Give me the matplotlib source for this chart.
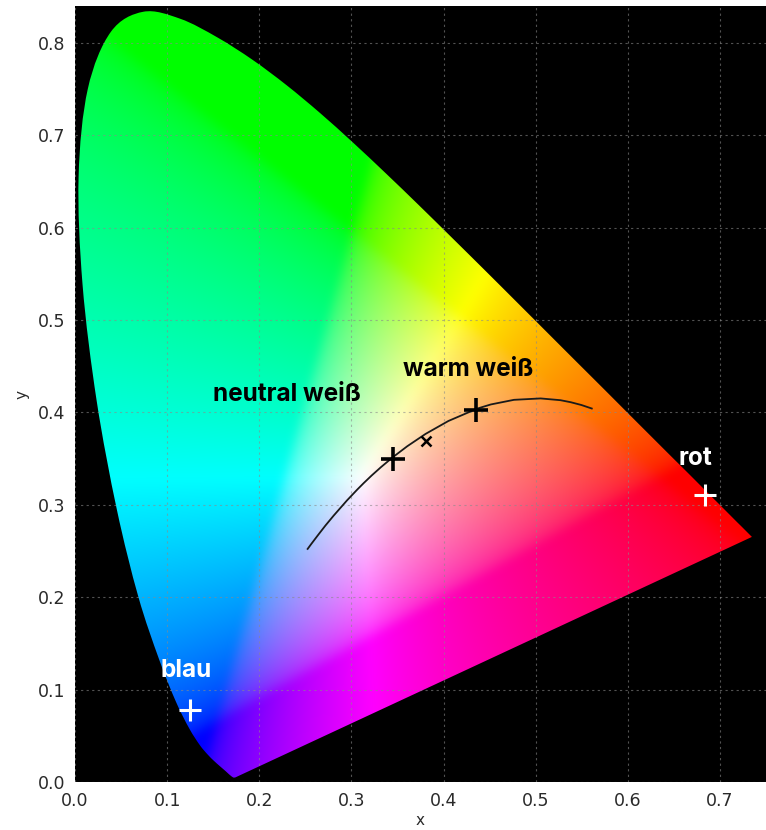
import numpy as np
import matplotlib
matplotlib.use("Agg")
import matplotlib.pyplot as plt
from matplotlib.path import Path
from matplotlib.patches import PathPatch

# CIE 1931 2-degree spectral locus, 380-700 nm in 5 nm steps
locus_x = [0.1741, 0.1740, 0.1738, 0.1736, 0.1733, 0.1730, 0.1726, 0.1721,
           0.1714, 0.1703, 0.1689, 0.1669, 0.1644, 0.1611, 0.1566, 0.1510,
           0.1440, 0.1355, 0.1241, 0.1096, 0.0913, 0.0687, 0.0454, 0.0235,
           0.0082, 0.0039, 0.0139, 0.0389, 0.0743, 0.1142, 0.1547, 0.1929,
           0.2296, 0.2658, 0.3016, 0.3373, 0.3731, 0.4087, 0.4441, 0.4788,
           0.5125, 0.5448, 0.5752, 0.6029, 0.6270, 0.6482, 0.6658, 0.6801,
           0.6915, 0.7006, 0.7079, 0.7140, 0.7190, 0.7230, 0.7260, 0.7283,
           0.7300, 0.7311, 0.7320, 0.7327, 0.7334, 0.7340, 0.7344, 0.7346,
           0.7347]
locus_y = [0.0050, 0.0050, 0.0049, 0.0049, 0.0048, 0.0048, 0.0048, 0.0048,
           0.0051, 0.0058, 0.0069, 0.0086, 0.0109, 0.0138, 0.0177, 0.0227,
           0.0297, 0.0399, 0.0578, 0.0868, 0.1327, 0.2007, 0.2950, 0.4127,
           0.5384, 0.6548, 0.7502, 0.8120, 0.8338, 0.8262, 0.8059, 0.7816,
           0.7543, 0.7243, 0.6923, 0.6589, 0.6245, 0.5896, 0.5547, 0.5202,
           0.4866, 0.4544, 0.4242, 0.3965, 0.3725, 0.3514, 0.3340, 0.3197,
           0.3083, 0.2993, 0.2920, 0.2859, 0.2809, 0.2770, 0.2740, 0.2717,
           0.2700, 0.2689, 0.2680, 0.2673, 0.2666, 0.2660, 0.2656, 0.2654,
           0.2653]

# Planckian locus, 1700 K ... 25000 K
planck_T = [1700, 1800, 1900, 2000, 2200, 2500, 2800, 3000, 3500, 4000,
            4500, 5000, 5500, 6000, 6500, 7000, 8000, 10000, 12000, 15000,
            20000, 25000]
planck_x = [0.5609, 0.5496, 0.5381, 0.5269, 0.5054, 0.4765, 0.4514, 0.4366,
            0.4053, 0.3805, 0.3607, 0.3450, 0.3323, 0.3220, 0.3135, 0.3064,
            0.2952, 0.2807, 0.2718, 0.2637, 0.2564, 0.2525]
planck_y = [0.4043, 0.4081, 0.4111, 0.4133, 0.4152, 0.4137, 0.4087, 0.4042,
            0.3908, 0.3768, 0.3635, 0.3516, 0.3410, 0.3318, 0.3237, 0.3166,
            0.3048, 0.2883, 0.2776, 0.2672, 0.2576, 0.2523]

# white points (black +) and measured point (x)
white_xy = [(0.345, 0.350), (0.435, 0.403)]
measured_xy = (0.381, 0.369)
# primaries (white +)
primary_xy = [(0.684, 0.311), (0.125, 0.078)]

labels = ["neutral weiß", "warm weiß", "rot", "blau"]
label_xy = [(0.150, 0.412), (0.356, 0.440), (0.655, 0.343), (0.093, 0.114)]
label_colors = ["black", "black", "white", "white"]


def smooth_outline(xs, ys):
    """Closed outline: Catmull-Rom curve through the locus, straight purple line."""
    pts = np.column_stack([xs, ys])
    n = len(pts)
    verts = [pts[0]]
    codes = [Path.MOVETO]
    for i in range(n - 1):
        p0 = pts[max(i - 1, 0)]
        p1 = pts[i]
        p2 = pts[i + 1]
        p3 = pts[min(i + 2, n - 1)]
        verts += [p1 + (p2 - p0) / 6, p2 - (p3 - p1) / 6, p2]
        codes += [Path.CURVE4] * 3
    verts += [pts[0], pts[0]]
    codes += [Path.LINETO, Path.CLOSEPOLY]
    return Path(verts, codes)


def blur(img, sigma):
    r = int(3 * sigma)
    k = np.exp(-0.5 * (np.arange(-r, r + 1) / sigma) ** 2)
    k /= k.sum()
    out = img
    for axis in (0, 1):
        pad = [(0, 0)] * out.ndim
        pad[axis] = (r, r)
        p = np.pad(out, pad, mode="edge")
        n = out.shape[axis]
        acc = np.zeros_like(out)
        for i, w in enumerate(k):
            acc += w * np.take(p, np.arange(i, i + n), axis=axis)
        out = acc
    return out


# xy -> sRGB fill of the diagram
nx, ny = 750, 840
xs = np.linspace(0, 0.75, nx)
ys = np.linspace(0, 0.84, ny)
gx, gy = np.meshgrid(xs, ys)
gy_safe = np.clip(gy, 1e-3, None)
XYZ = np.stack([gx / gy_safe, np.ones_like(gx), (1 - gx - gy) / gy_safe], axis=-1)
M = np.array([[3.2406, -1.5372, -0.4986],
              [-0.9689, 1.8758, 0.0415],
              [0.0557, -0.2040, 1.0570]])
rgb = XYZ @ M.T
rgb = np.clip(rgb, 0, None)
rgb = rgb / np.clip(rgb.max(axis=-1, keepdims=True), 1e-9, None)
rgb = np.where(rgb <= 0.0031308, 12.92 * rgb, 1.055 * rgb ** (1 / 2.4) - 0.055)
rgb = np.clip(blur(rgb, 5.0), 0, 1)

fig = plt.figure(figsize=(7.66, 8.30), dpi=100)
ax = fig.add_axes([75 / 766, 48 / 830, 691 / 766, 776 / 830])
ax.set_facecolor("black")

im = ax.imshow(rgb, origin="lower", extent=(0, 0.75, 0, 0.84),
               interpolation="bilinear", aspect="auto", zorder=1)
outline = PathPatch(smooth_outline(locus_x, locus_y), facecolor="none",
                    edgecolor="none")
ax.add_patch(outline)
im.set_clip_path(outline)

ax.plot(planck_x, planck_y, color="#1a1a1a", lw=1.3, zorder=3)

for px, py in white_xy:
    ax.plot(px, py, marker="+", color="black", ms=17, mew=2.6, zorder=4)
ax.plot(*measured_xy, marker="x", color="black", ms=7, mew=1.8, zorder=4)
for px, py in primary_xy:
    ax.plot(px, py, marker="+", color="white", ms=16, mew=2.2, zorder=4)

for text, (tx, ty), c in zip(labels, label_xy, label_colors):
    ax.text(tx, ty, text, color=c, fontsize=17.5, family="Inter",
            fontweight="bold", ha="left", va="baseline", zorder=5)

ax.set_xlim(0, 0.75)
ax.set_ylim(0, 0.84)
ax.set_xticks(np.arange(0, 0.75, 0.1))
ax.set_yticks(np.arange(0, 0.85, 0.1))
ax.xaxis.set_major_formatter(plt.FormatStrFormatter("%.1f"))
ax.yaxis.set_major_formatter(plt.FormatStrFormatter("%.1f"))
ax.tick_params(length=0, labelsize=12.5, labelcolor="#2a2a2a", pad=7)
for s in ax.spines.values():
    s.set_visible(False)
ax.grid(True, color="#8a8a8a", linestyle=(0, (2, 3)), linewidth=0.8, alpha=0.6)
ax.set_axisbelow(False)
ax.set_xlabel("x", fontsize=11, color="#2a2a2a", labelpad=2)
ax.set_ylabel("y", fontsize=11, color="#2a2a2a", labelpad=6)

fig.savefig("out.png", dpi=100)
